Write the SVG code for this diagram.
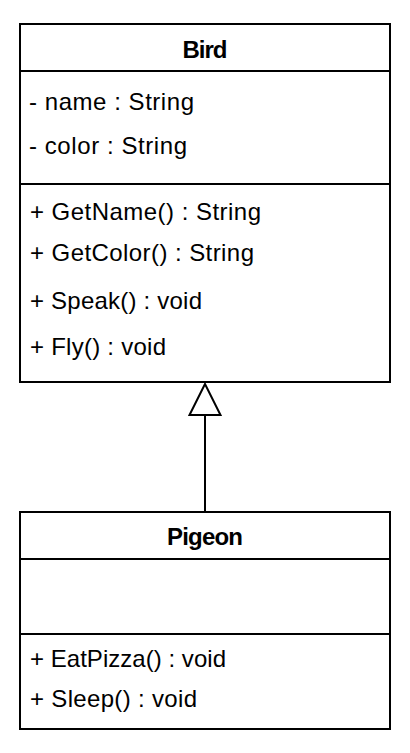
<svg xmlns="http://www.w3.org/2000/svg" width="410" height="753" viewBox="0 0 410 753">
<style>
.box{fill:#fff;stroke:#000;stroke-width:2}
.ln{stroke:#000;stroke-width:2;fill:none}
text{font-family:"Liberation Sans",Arial,sans-serif;font-size:24px;fill:#000}
.t{font-weight:bold;text-anchor:middle}
</style>
<rect width="410" height="753" fill="#fff"/>
<g id="connectors">
<line class="ln" x1="205" y1="415" x2="205" y2="512"/>
<polygon class="ln" points="205,384 189.5,415 220.5,415" style="fill:#fff"/>
</g>
<g id="Bird">
<rect class="box" x="20" y="24" width="370" height="358"/>
<line class="ln" x1="20" y1="71" x2="390" y2="71"/>
<line class="ln" x1="20" y1="184" x2="390" y2="184"/>
<text class="t" x="205" y="58" textLength="45">Bird</text>
<text x="29" y="110" textLength="165">- name : String</text>
<text x="29" y="154" textLength="158">- color : String</text>
<text x="30" y="220" textLength="231">+ GetName() : String</text>
<text x="30" y="261" textLength="224">+ GetColor() : String</text>
<text x="30" y="309" textLength="172">+ Speak() : void</text>
<text x="30" y="355" textLength="136">+ Fly() : void</text>
</g>
<g id="Pigeon">
<rect class="box" x="20" y="512" width="370" height="217"/>
<line class="ln" x1="20" y1="559" x2="390" y2="559"/>
<line class="ln" x1="20" y1="634" x2="390" y2="634"/>
<text class="t" x="205" y="545" textLength="76">Pigeon</text>
<text x="30" y="667" textLength="196">+ EatPizza() : void</text>
<text x="30" y="707" textLength="167">+ Sleep() : void</text>
</g>
</svg>
